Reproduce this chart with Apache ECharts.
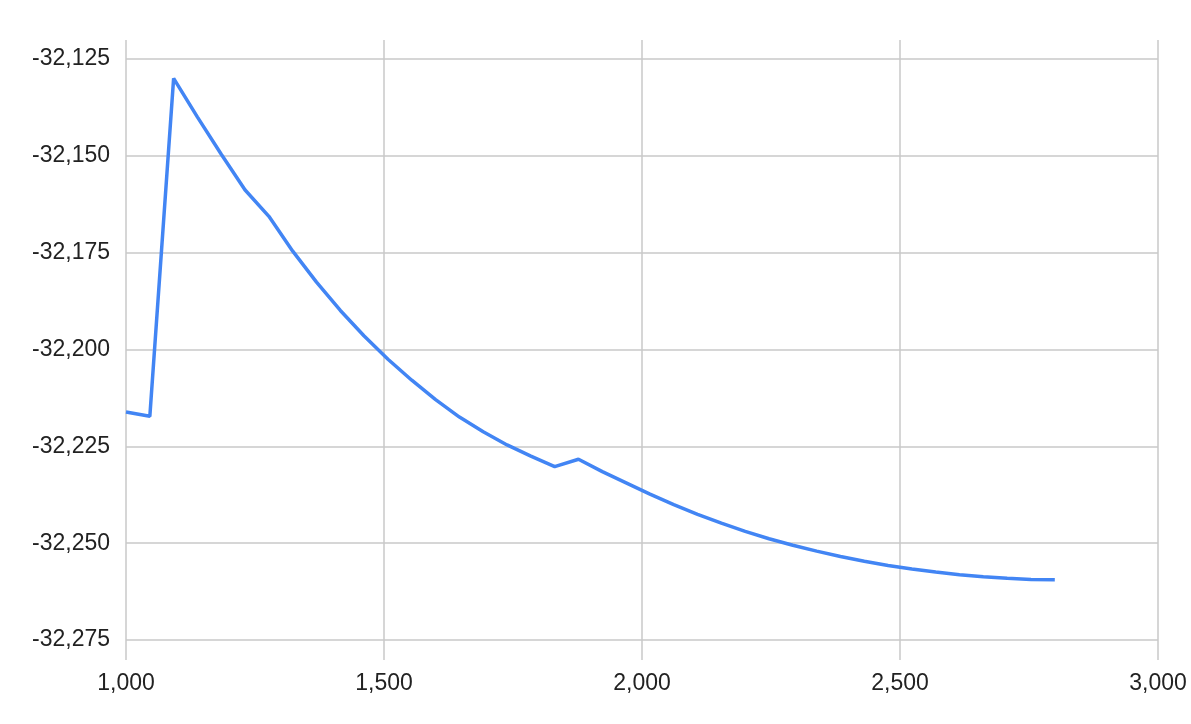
<!DOCTYPE html>
<html>
<head>
<meta charset="utf-8">
<script src="https://cdn.jsdelivr.net/npm/echarts@6/dist/echarts.min.js"></script>
<style>
html,body{margin:0;padding:0;background:#fff;}
#chart{width:1191px;height:724px;}
</style>
</head>
<body>
<div id="chart"></div>
<script>
const xValues = [1000, 1046.2, 1092.3, 1138.5, 1184.6, 1230.8, 1276.9, 1323.1, 1369.2, 1415.4,
  1461.5, 1507.7, 1553.8, 1600, 1646.2, 1692.3, 1738.5, 1784.6, 1830.8, 1876.9,
  1923.1, 1969.2, 2015.4, 2061.5, 2107.7, 2153.8, 2200, 2246.2, 2292.3, 2338.5,
  2384.6, 2430.8, 2476.9, 2523.1, 2569.2, 2615.4, 2661.5, 2707.7, 2753.8, 2800];
const yValues = [-32216.0, -32217.1, -32129.9, -32139.9, -32149.5, -32158.7, -32165.5, -32174.5, -32182.5, -32189.8,
  -32196.4, -32202.4, -32207.8, -32212.8, -32217.3, -32221.1, -32224.5, -32227.4, -32230.1, -32228.2,
  -32231.4, -32234.3, -32237.2, -32239.9, -32242.4, -32244.7, -32246.8, -32248.7, -32250.4, -32251.9,
  -32253.3, -32254.5, -32255.6, -32256.5, -32257.3, -32258.0, -32258.5, -32258.9, -32259.2, -32259.3];
const xTicks = {min: 1000, max: 3000, interval: 500};
const yTicks = {min: -32275, max: -32125, interval: 25};

const fmt = v => Number(v).toLocaleString('en-US');
const FONT = 'Liberation Sans, Arial, sans-serif';
const gridColor = '#c8c8c8';

const chart = echarts.init(document.getElementById('chart'), null, {renderer: 'canvas'});
chart.setOption({
  backgroundColor: '#ffffff',
  animation: false,
  grid: [
    {left: 126, right: 33, top: 40, bottom: 64, containLabel: false},
    {left: 126, right: 33, top: 59, bottom: 84, containLabel: false}
  ],
  xAxis: [
    {
      type: 'value', gridIndex: 0, min: xTicks.min, max: xTicks.max, interval: xTicks.interval,
      axisLine: {show: false}, axisTick: {show: false},
      splitLine: {show: true, showMinLine: true, showMaxLine: true, lineStyle: {color: gridColor, width: 1.5}},
      axisLabel: {formatter: fmt, color: '#222', fontSize: 23, fontFamily: FONT, margin: 12}
    },
    {
      type: 'value', gridIndex: 1, min: xTicks.min, max: xTicks.max, show: false
    }
  ],
  yAxis: [
    {
      type: 'value', gridIndex: 0, min: -32280, max: -32120, show: false, splitLine: {show: false}
    },
    {
      type: 'value', gridIndex: 1, min: yTicks.min, max: yTicks.max, interval: yTicks.interval,
      axisLine: {show: false}, axisTick: {show: false},
      splitLine: {show: true, showMinLine: true, showMaxLine: true, lineStyle: {color: gridColor, width: 1.5}},
      axisLabel: {formatter: fmt, color: '#222', fontSize: 23, fontFamily: FONT, margin: 16}
    }
  ],
  series: [{
    type: 'line', xAxisIndex: 0, yAxisIndex: 0,
    data: xValues.map((x, i) => [x, yValues[i]]),
    showSymbol: false, symbol: 'none', smooth: false,
    lineStyle: {color: '#4285F4', width: 3.5},
    itemStyle: {color: '#4285F4'}
  }]
});
</script>
</body>
</html>
